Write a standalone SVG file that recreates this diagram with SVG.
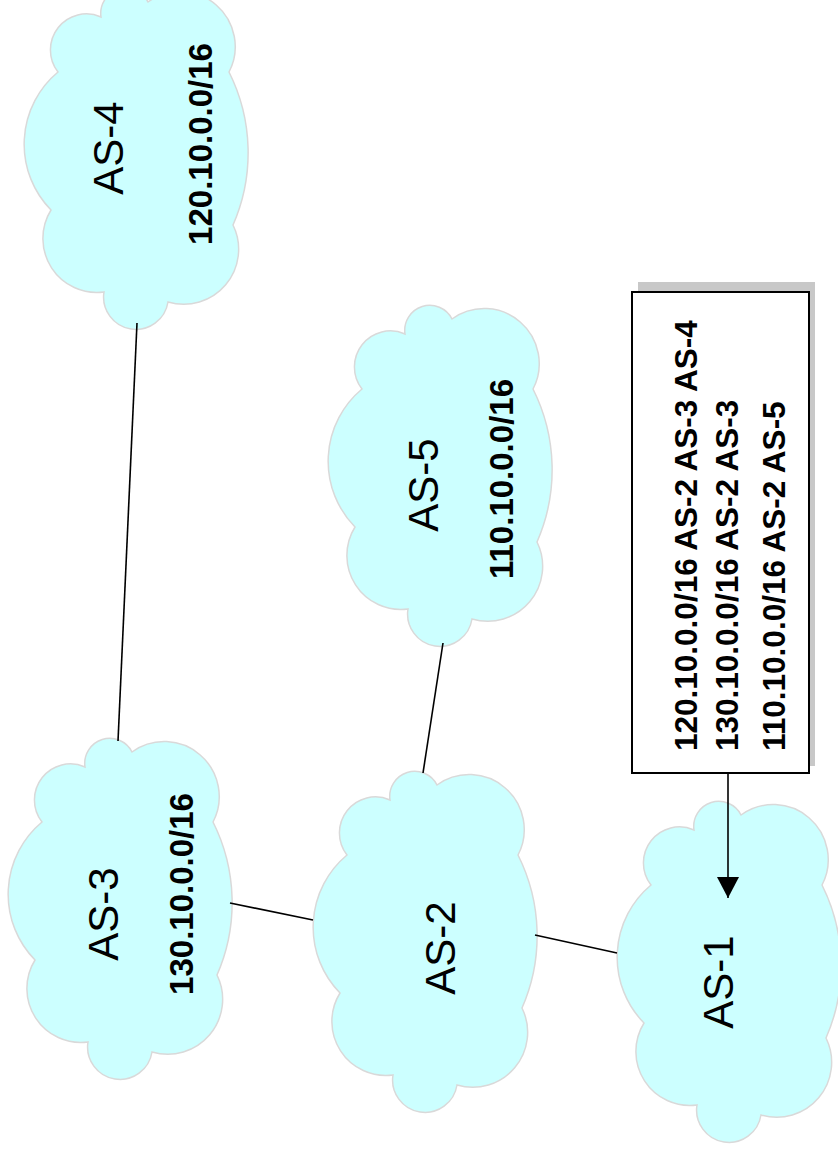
<svg xmlns="http://www.w3.org/2000/svg" width="838" height="1152" viewBox="0 0 838 1152">
<style>
.cloud{fill:#CCFFFF;stroke:#D9D9D9;stroke-width:1.5}
.lbl{font-family:"Liberation Sans",Arial,sans-serif;font-size:42px;fill:#000;text-anchor:middle}
.net{font-family:"Liberation Sans",Arial,sans-serif;font-size:33px;font-weight:bold;fill:#000;text-anchor:middle}
.rt{font-family:"Liberation Sans",Arial,sans-serif;font-size:31.5px;font-weight:bold;fill:#000}
.link{stroke:#000;stroke-width:1.6;fill:none}
</style>
<defs>
<path id="cloudShape" d="M77,27 A25,25 0 0 1 124,12 A55,55 0 0 1 205,82 A180,180 0 0 1 209,235 A55,55 0 0 1 144,312 A32,32 0 0 1 80,302 A54,54 0 0 1 27,220 A94,94 0 0 1 34,82 A36,36 0 0 1 77,27 Z"/>
<marker id="arr" markerUnits="userSpaceOnUse" markerWidth="22" markerHeight="22" refX="21" refY="11" orient="auto">
<path d="M0,0 L21,11 L0,22 Z" fill="#000"/>
</marker>
</defs>
<rect width="838" height="1152" fill="#fff"/>

<g id="AS-4">
<use href="#cloudShape" class="cloud" transform="translate(24,-10)"/>
<text class="lbl" transform="translate(123,148) rotate(-90)">AS-4</text>
<text class="net" transform="translate(212,144) rotate(-90)">120.10.0.0/16</text>
</g>

<g id="AS-5">
<use href="#cloudShape" class="cloud" transform="translate(328,307)"/>
<text class="lbl" transform="translate(438,485) rotate(-90)">AS-5</text>
<text class="net" transform="translate(513,479) rotate(-90)">110.10.0.0/16</text>
</g>

<g id="AS-3">
<use href="#cloudShape" class="cloud" transform="translate(8,740)"/>
<text class="lbl" transform="translate(118,914) rotate(-90)">AS-3</text>
<text class="net" transform="translate(193,894) rotate(-90)">130.10.0.0/16</text>
</g>

<g id="AS-2">
<use href="#cloudShape" class="cloud" transform="translate(313,773)"/>
<text class="lbl" transform="translate(455,948) rotate(-90)">AS-2</text>
</g>

<g id="AS-1">
<use href="#cloudShape" class="cloud" transform="translate(617,803)"/>
<text class="lbl" transform="translate(733,982) rotate(-90)">AS-1</text>
</g>

<g id="routes">
<rect x="638" y="282" width="177" height="484" fill="#C8C8C8"/>
<rect x="632" y="292" width="177" height="481" fill="#fff" stroke="#000" stroke-width="2"/>
<text class="rt" transform="translate(697,751) rotate(-90)">120.10.0.0/16 AS-2 AS-3 AS-4</text>
<text class="rt" transform="translate(738,751) rotate(-90)">130.10.0.0/16 AS-2 AS-3</text>
<text class="rt" transform="translate(785,751) rotate(-90)">110.10.0.0/16 AS-2 AS-5</text>
</g>

<g id="connectors">
<line class="link" x1="137" y1="323" x2="118" y2="741"/>
<line class="link" x1="443" y1="643" x2="423" y2="773"/>
<line class="link" x1="230" y1="903" x2="313" y2="920"/>
<line class="link" x1="535" y1="935" x2="617" y2="953"/>
<line class="link" x1="728" y1="773" x2="728" y2="898" stroke-width="2" marker-end="url(#arr)"/>
</g>
</svg>
